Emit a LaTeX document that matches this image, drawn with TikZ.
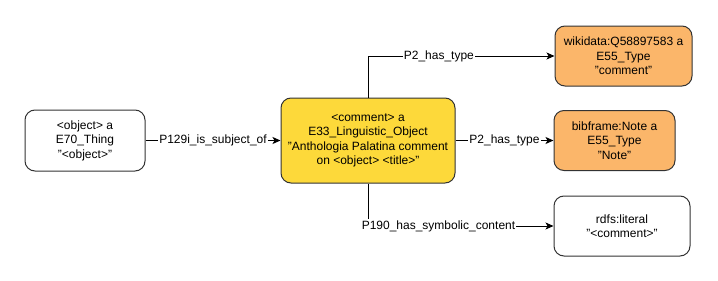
\documentclass[tikz,border=0pt]{standalone}
\usepackage{fontspec}
\setmainfont{Liberation Sans}
\usepackage{xcolor}
\usetikzlibrary{arrows.meta}
\definecolor{cmyellow}{RGB}{253,217,58}
\definecolor{cmorange}{RGB}{251,182,106}
\definecolor{cmedge}{RGB}{51,51,51}
\newcommand{\us}{\textunderscore}

\begin{document}
\begin{tikzpicture}[x=1pt,y=-1pt,>={Stealth[length=8pt,width=7pt,inset=2pt]},
  font=\fontsize{12pt}{14.4pt}\selectfont,
  entity/.style={draw=cmedge,line width=1pt,rounded corners=10pt,align=center,inner sep=0pt},
  rel/.style={fill=white,inner sep=1pt}]
  \useasboundingbox (0,0) rectangle (718,281);
  \node[entity,minimum width=120pt,minimum height=61pt] (object) at (85,140.5)
    {<object> a\\E70\us Thing\\"<object>"};
  \node[entity,fill=cmyellow,minimum width=174pt,minimum height=85pt] (comment) at (368,140.5)
    {<comment> a\\E33\us Linguistic\us Object\\"Anthologia Palatina comment\\on <object> <title>"};
  \node[entity,fill=cmorange,minimum width=137pt,minimum height=60pt] (wikidata) at (623.5,56)
    {wikidata:Q58897583 a\\E55\us Type\\"comment"};
  \node[entity,fill=cmorange,minimum width=121pt,minimum height=60pt] (note) at (614.5,140.5)
    {bibframe:Note a\\E55\us Type\\"Note"};
  \node[entity,minimum width=136pt,minimum height=60pt] (literal) at (622,226)
    {rdfs:literal\\"<comment>"};
  % connectors
  \draw[->,line width=1pt] (object) -- node[rel]{P129i\us is\us subject\us of} (comment);
  \draw[->,line width=1pt] (comment.north) |- node[rel,pos=0.69]{P2\us has\us type} (wikidata.west);
  \draw[->,line width=1pt] (comment) -- node[rel]{P2\us has\us type} (note);
  \draw[->,line width=1pt] (comment.south) |- node[rel,pos=0.69]{P190\us has\us symbolic\us content} (literal.west);
\end{tikzpicture}
\end{document}
